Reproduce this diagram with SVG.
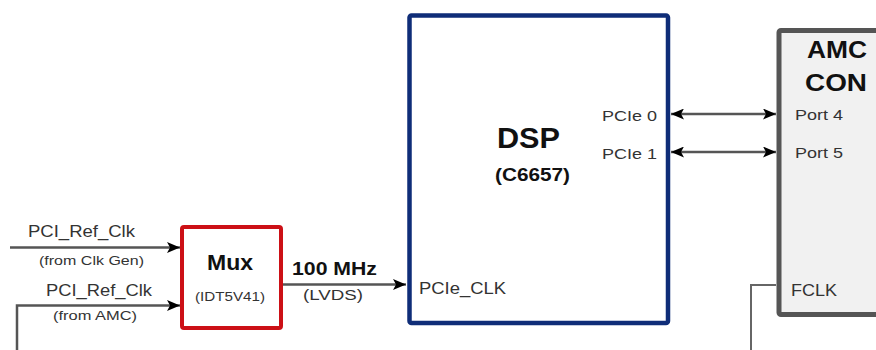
<svg xmlns="http://www.w3.org/2000/svg" width="876" height="350" viewBox="0 0 876 350">
<defs>
<style>
.t{font-family:"Liberation Sans",Arial,sans-serif;fill:#333}
.b{font-family:"Liberation Sans",Arial,sans-serif;font-weight:bold;fill:#111}
.ln{fill:none;stroke:#555;stroke-width:2.5}
.thin{fill:none;stroke:#666;stroke-width:2}
</style>
<marker id="ah" viewBox="0 0 13 11" refX="13" refY="5.5" markerWidth="13" markerHeight="11" markerUnits="userSpaceOnUse" orient="auto-start-reverse">
<path d="M0,0 L13,5.5 L0,11 L3,5.5 Z" fill="#000"/>
</marker>
</defs>
<rect width="876" height="350" fill="#fff"/>
<g id="connectors">
<path class="ln" d="M10,247.5 H180" marker-end="url(#ah)"/>
<path class="ln" d="M17,350 V305.5 H180" marker-end="url(#ah)"/>
<path class="ln" d="M283,284.5 H406" marker-end="url(#ah)"/>
<path class="ln" d="M671,114 H776" marker-start="url(#ah)" marker-end="url(#ah)"/>
<path class="ln" d="M671,152 H776" marker-start="url(#ah)" marker-end="url(#ah)"/>
<path class="thin" d="M776,285 H751 V350"/>
<text class="t" x="28" y="237" font-size="16" textLength="107" lengthAdjust="spacingAndGlyphs">PCI_Ref_Clk</text>
<text class="t" x="39" y="265" font-size="13" textLength="105" lengthAdjust="spacingAndGlyphs">(from Clk Gen)</text>
<text class="t" x="46" y="296" font-size="16" textLength="106" lengthAdjust="spacingAndGlyphs">PCI_Ref_Clk</text>
<text class="t" x="53" y="320" font-size="13" textLength="84" lengthAdjust="spacingAndGlyphs">(from AMC)</text>
<text class="b" x="292" y="275" font-size="18.5" textLength="85" lengthAdjust="spacingAndGlyphs">100 MHz</text>
<text class="t" x="303" y="300" font-size="14.5" textLength="60" lengthAdjust="spacingAndGlyphs">(LVDS)</text>
</g>
<g id="mux">
<rect x="182" y="227" width="99" height="101" rx="2" fill="#fff" stroke="#cc1016" stroke-width="4"/>
<text class="b" x="207" y="270" font-size="22" textLength="46" lengthAdjust="spacingAndGlyphs">Mux</text>
<text class="t" x="195" y="301" font-size="12" textLength="70" lengthAdjust="spacingAndGlyphs">(IDT5V41)</text>
</g>
<g id="dsp">
<rect x="409.5" y="15.5" width="258.5" height="307.5" rx="2" fill="#fff" stroke="#0f2d78" stroke-width="4.5"/>
<text class="b" x="497" y="148" font-size="29" textLength="63" lengthAdjust="spacingAndGlyphs">DSP</text>
<text class="b" x="495" y="181" font-size="18" textLength="75" lengthAdjust="spacingAndGlyphs">(C6657)</text>
<text class="t" x="602" y="121" font-size="15" textLength="55" lengthAdjust="spacingAndGlyphs">PCIe 0</text>
<text class="t" x="602" y="159" font-size="15" textLength="55" lengthAdjust="spacingAndGlyphs">PCIe 1</text>
<text class="t" x="419" y="294" font-size="16" textLength="87" lengthAdjust="spacingAndGlyphs">PCIe_CLK</text>
</g>
<g id="amc">
<rect x="779" y="30.5" width="110" height="284" rx="2" fill="#f1f1f1" stroke="#555" stroke-width="5"/>
<text class="b" x="807" y="58" font-size="23" textLength="60" lengthAdjust="spacingAndGlyphs">AMC</text>
<text class="b" x="805" y="91" font-size="23" textLength="62" lengthAdjust="spacingAndGlyphs">CON</text>
<text class="t" x="795" y="120" font-size="15" textLength="48" lengthAdjust="spacingAndGlyphs">Port 4</text>
<text class="t" x="795" y="158" font-size="15" textLength="48" lengthAdjust="spacingAndGlyphs">Port 5</text>
<text class="t" x="791" y="296" font-size="16" textLength="46" lengthAdjust="spacingAndGlyphs">FCLK</text>
</g>
</svg>
